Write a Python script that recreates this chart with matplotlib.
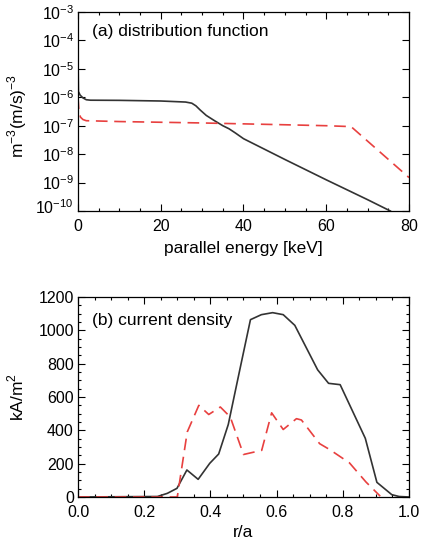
import numpy as np
import matplotlib.pyplot as plt
import matplotlib.transforms as mtransforms
from matplotlib.ticker import MultipleLocator, FixedLocator

plt.rcParams['font.family'] = ['Liberation Sans', 'DejaVu Sans']
plt.rcParams['mathtext.fontset'] = 'custom'
plt.rcParams['mathtext.rm'] = 'Liberation Sans'

# (a) distribution function vs parallel energy [keV]
e_black = [0, 0.1, 0.5, 1.2, 2, 3, 10, 20, 26, 27.5, 28.5, 29.5, 31, 33, 35, 36.5, 38, 40, 50, 60, 70, 75.5]
f_black = [3e-5, 1.6e-6, 1.2e-6, 9.5e-7, 8.2e-7, 7.9e-7, 7.8e-7, 7.4e-7, 6.8e-7, 6.2e-7,
           5.0e-7, 3.6e-7, 2.3e-7, 1.5e-7, 1.0e-7, 7.8e-8, 5.6e-8, 3.5e-8, 6.5e-9, 1.25e-9, 2.5e-10, 1e-10]
e_red = [0, 0.2, 0.6, 1.2, 2, 10, 30, 50, 60, 66, 80]
f_red = [1e-6, 3.5e-7, 2.0e-7, 1.65e-7, 1.5e-7, 1.4e-7, 1.25e-7, 1.08e-7, 1.0e-7, 9.3e-8, 1.5e-9]

# (b) current density vs r/a
r_black = [0.0, 0.24, 0.27, 0.299, 0.329, 0.363, 0.398, 0.425, 0.454, 0.474, 0.489, 0.521,
           0.554, 0.588, 0.62, 0.655, 0.724, 0.757, 0.792, 0.868, 0.903, 0.948, 0.97, 1.0]
j_black = [0, 3, 22, 52, 162, 106, 202, 258, 435, 624, 765, 1064,
           1094, 1106, 1094, 1030, 763, 682, 674, 352, 88, 14, 3, 0]
r_red = [0.0, 0.30, 0.33, 0.365, 0.395, 0.43, 0.46, 0.50, 0.555, 0.585, 0.62, 0.66,
         0.675, 0.73, 0.76, 0.82, 0.87, 0.913]
j_red = [0, 0, 390, 550, 495, 540, 480, 255, 280, 505, 405, 470,
         462, 320, 285, 205, 90, 5]

black = '#333333'
red = '#e8403f'

fig = plt.figure(figsize=(4.21, 5.39), dpi=100)
ax1 = fig.add_axes([78 / 421, 1 - 211 / 539, 331 / 421, 199 / 539])
ax2 = fig.add_axes([78 / 421, 1 - 497 / 539, 331 / 421, 200 / 539])

ax1.semilogy(e_black, f_black, color=black, lw=1.2)
ax1.semilogy(e_red, f_red, color=red, lw=1.2, dashes=(7, 4))
ax1.set_xlim(0, 80)
ax1.set_ylim(1e-10, 1e-3)
ax1.xaxis.set_major_locator(MultipleLocator(20))
ax1.xaxis.set_minor_locator(MultipleLocator(5))
ax1.yaxis.set_major_locator(FixedLocator([10.0 ** k for k in range(-10, -2)]))
ax1.yaxis.set_minor_locator(FixedLocator([]))
ax1.set_yticklabels([r'10$^{%d}$' % k for k in range(-10, -2)])
ax1.set_xlabel('parallel energy [keV]', fontsize=12.5)
ax1.set_ylabel(r'm$^{-3}$(m/s)$^{-3}$', fontsize=12.5)
ax1.xaxis.set_label_coords(0.5, -0.151)
ax1.yaxis.set_label_coords(-0.148, 0.48)
ax1.text(0.042, 0.90, '(a) distribution function', transform=ax1.transAxes,
         fontsize=12.5, va='center', ha='left')

ax2.plot(r_black, j_black, color=black, lw=1.2)
ax2.plot(r_red, j_red, color=red, lw=1.2, dashes=(7, 4))
ax2.set_xlim(0, 1)
ax2.set_ylim(0, 1200)
ax2.xaxis.set_major_locator(MultipleLocator(0.2))
ax2.xaxis.set_minor_locator(MultipleLocator(0.05))
ax2.yaxis.set_major_locator(MultipleLocator(200))
ax2.yaxis.set_minor_locator(MultipleLocator(50))
ax2.xaxis.set_major_formatter(plt.FormatStrFormatter('%.1f'))
ax2.set_xlabel('r/a', fontsize=12.5)
ax2.set_ylabel(r'kA/m$^2$', fontsize=12.5)
ax2.xaxis.set_label_coords(0.5, -0.14)
ax2.yaxis.set_label_coords(-0.157, 0.5)
ax2.text(0.042, 0.885, '(b) current density', transform=ax2.transAxes,
         fontsize=12.5, va='center', ha='left')

for ax in (ax1, ax2):
    ax.tick_params(which='both', direction='in', top=True, right=True, labelsize=11.5, width=0.8)
    ax.tick_params(axis='x', which='major', pad=6)
    ax.tick_params(axis='y', which='major', pad=3)
    ax.tick_params(which='major', length=5)
    ax.tick_params(which='minor', length=2.5)
    for s in ax.spines.values():
        s.set_linewidth(0.9)

# lift the lowest y tick label a little, as in the original
fig.canvas.draw()
lift = mtransforms.ScaledTranslation(0, 5 / 100, fig.dpi_scale_trans)
for ax in (ax1, ax2):
    lab = ax.yaxis.get_major_ticks()[0].label1
    lab.set_transform(lab.get_transform() + lift)

fig.savefig('out.png', dpi=100)
